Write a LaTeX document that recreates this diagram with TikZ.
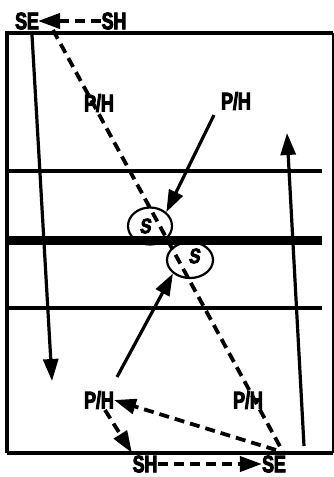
\documentclass[tikz,border=0pt]{standalone}
\usepackage{fontspec}
\newfontfamily\imp{Liberation Sans Bold}[FakeStretch=0.74, FakeBold=4]
\newfontfamily\impsl{Liberation Sans Bold}[FakeStretch=0.8, FakeBold=4, FakeSlant=0.15]
\usetikzlibrary{arrows.meta,shapes.geometric}
\tikzset{
  lbl/.style={inner sep=0pt, font=\imp\fontsize{24}{24}\selectfont},
  slbl/.style={inner sep=0pt, font=\impsl\fontsize{21}{21}\selectfont},
  frame/.style={line width=4.5pt},
  sline/.style={line width=3.2pt},
  dline/.style={line width=3.8pt, dash pattern=on 10pt off 6pt},
  tip/.style={-{Triangle[length=22pt,width=15pt]}},
  circ/.style={draw, line width=2.2pt, ellipse, inner sep=0pt}
}
\begin{document}
\begin{tikzpicture}[x=1pt,y=-1pt]
\useasboundingbox (0,0) rectangle (334,477);
% frame
\draw[frame] (7,453) -- (7,33) -- (333,33);
\draw[line width=2.4pt] (333,33) -- (333,453);
\draw[frame] (7,453) -- (333,453);
% horizontal lines
\draw[frame] (7,171) -- (322,171);
\draw[line width=9pt] (7,240) -- (322,240);
\draw[frame] (7,308) -- (322,308);
% labels
\node[lbl] (seTop) at (27,21) {SE};
\node[lbl] (shTop) at (114,21) {SH};
\node[lbl] (phTL) at (99,103) {P/H};
\node[lbl] (phTR) at (236,101) {P/H};
\node[lbl] (phBL) at (99,400) {P/H};
\node[lbl] (phBR) at (248,400) {P/H};
\node[lbl] (shBot) at (145,464) {SH};
\node[lbl] (seBot) at (274,464) {SE};
% circles
\node[circ, minimum width=44pt, minimum height=37pt] (s1) at (150,226) {};
\node[slbl] (s1t) at (145,226) {S};
\node[circ, minimum width=46pt, minimum height=36pt] (s2) at (190,260) {};
\node[slbl] (s2t) at (194,256) {S};
% coordinates
\coordinate (dA) at (53,30);
\coordinate (dB) at (283,452);
\coordinate (lA) at (32,35);
\coordinate (lB) at (52,381);
\coordinate (rA) at (304,446);
\coordinate (rB) at (287,133);
\coordinate (bStart) at (276,450);
% connectors
\draw[dline, tip] (shTop.west) -- (38,21);
\draw[dline] (dA) -- (dB);
\draw[sline, tip] (lA) -- (lB);
\draw[sline, tip] (rA) -- (rB);
\draw[sline, tip] (214,115) -- (s1.north east);
\draw[sline, tip] (117,377) -- (s2.south west);
\draw[dline, tip] (bStart) -- (phBL.east);
\draw[dline, tip] (105,410) -- (132,453);
\draw[dline, tip] (shBot.east) -- (seBot.west);
\end{tikzpicture}
\end{document}
